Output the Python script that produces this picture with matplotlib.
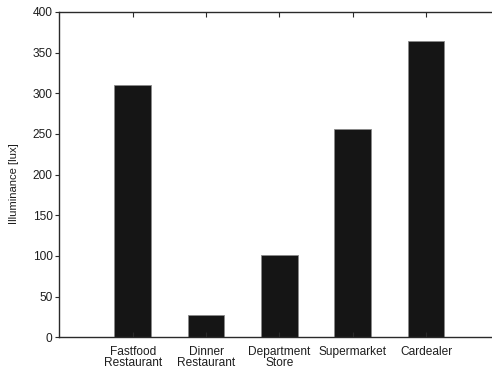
import matplotlib
matplotlib.use("Agg")
import matplotlib.pyplot as plt

plt.rcParams["font.family"] = ["Liberation Sans", "DejaVu Sans"]

venues = ["Fastfood\nRestaurant", "Dinner\nRestaurant", "Department\nStore",
          "Supermarket", "Cardealer"]
illuminance = [310, 28, 101, 256, 364]
positions = [1, 2, 3, 4, 5]

BAR_COLOR = "#151515"
EDGE_COLOR = "#8a8a8a"
AXIS_COLOR = "#2a2a2a"
TEXT_COLOR = "#1e1e1e"

fig = plt.figure(figsize=(4.92, 3.68), dpi=100)
ax = fig.add_axes([59.4 / 492, 1 - 337.3 / 368, (492 - 59.4) / 492, (337.3 - 12) / 368])

ax.bar(positions, illuminance, width=0.5, color=BAR_COLOR,
       edgecolor=EDGE_COLOR, linewidth=0.6, zorder=1)

ax.set_xlim(0, 5.9)
ax.set_ylim(0, 400)
ax.set_yticks(range(0, 401, 50))
ax.set_xticks(positions)
ax.set_xticklabels(venues, fontsize=8.6, linespacing=0.92, color=TEXT_COLOR)
ax.set_ylabel("Illuminance [lux]", fontsize=8.1, color=TEXT_COLOR,
              va="center", ha="center")
ax.yaxis.set_label_coords(-0.105, 0.473)

ax.spines["right"].set_visible(False)
for side in ("left", "top", "bottom"):
    ax.spines[side].set_color(AXIS_COLOR)
    ax.spines[side].set_linewidth(1.0)
    ax.spines[side].set_zorder(3)

ax.tick_params(axis="y", direction="out", length=3, width=0.8, color=AXIS_COLOR,
               labelsize=8.6, labelcolor=TEXT_COLOR, pad=2, right=False)
ax.tick_params(axis="x", direction="in", length=3.5, width=0.8, color=AXIS_COLOR,
               top=True, pad=6)

fig.savefig("out.png", dpi=100, facecolor="white")
